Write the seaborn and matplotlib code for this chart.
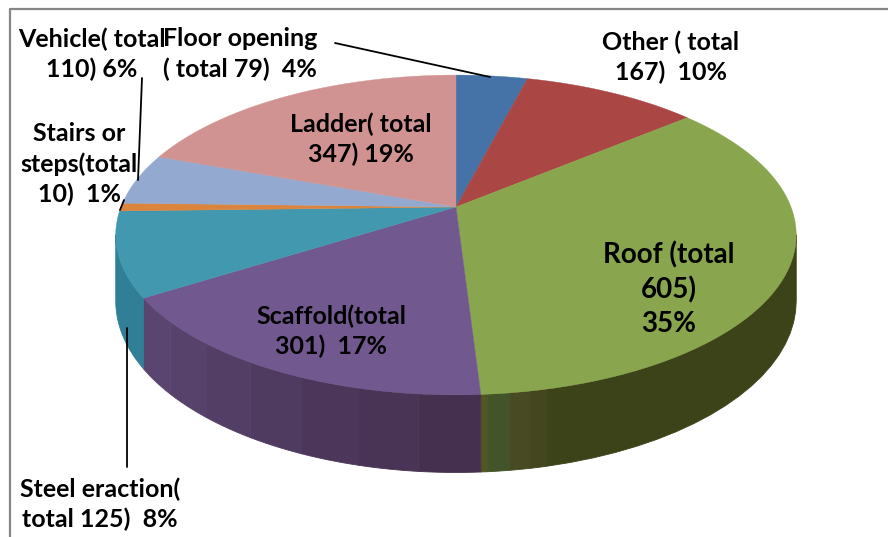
import matplotlib
matplotlib.use("Agg")
import matplotlib.pyplot as plt
import seaborn as sns
import numpy as np

# slices start at 12 o'clock and go clockwise
categories = ["Floor opening", "Other", "Roof", "Scaffold", "Steel eraction",
              "Stairs or steps", "Vehicle", "Ladder"]
# sizes as drawn on the picture (the wedges differ a bit from their labels)
values = [70, 173, 612, 297, 149, 14, 90, 339]
slice_colors = ["#4572A7", "#AA4643", "#89A54E", "#71588F",
                "#4198AF", "#DB843D", "#93A9CF", "#D19392"]
labels = ["Floor opening\n( total 79)  4%", "Other ( total\n167)  10%",
          "Roof (total\n605)\n35%", "Scaffold(total\n301)  17%",
          "Steel eraction(\ntotal 125)  8%", "Stairs or\nsteps(total\n10)  1%",
          "Vehicle( total\n110) 6%", "Ladder( total\n347) 19%"]

sns.set_theme(style="white")
plt.rcParams['font.family'] = ['Lato', 'DejaVu Sans']
palette = sns.color_palette(slice_colors)

CX, CY = 456, 207   # apex of the pie, in pixels
RX, RY = 335, 155
PERSP = 0.175
DEPTH = 64


def project(theta, drop=False):
    """Disk angle (deg clockwise from top) to picture pixels, with some perspective"""
    t = np.radians(theta)
    u, v = np.sin(t), np.cos(t)
    w = 1 + PERSP * v
    x = CX + u * RX / w
    y = CY - v * RY / w
    if drop:
        y = y + DEPTH / w
    return x, y


def draw_wall(ax, th0, th1, c0, c1=None, bands=1):
    """Side wall between two angles, split in flat shaded bands"""
    c0 = np.array(matplotlib.colors.to_rgb(c0))
    c1 = c0 if c1 is None else np.array(matplotlib.colors.to_rgb(c1))
    edges = np.linspace(th0, th1, bands + 1)
    for i in range(bands):
        th = np.linspace(edges[i], edges[i + 1], 20)
        xt, yt = project(th)
        xb, yb = project(th[::-1], drop=True)
        col = c0 + (c1 - c0) * (i / max(bands - 1, 1))
        ax.fill(np.r_[xt, xb], np.r_[yt, yb], color=col, lw=0.6, zorder=2)


fig = plt.figure(figsize=(8.88, 5.37), dpi=100)
ax = fig.add_axes([0, 0, 1, 1])
ax.set_xlim(0, 888)
ax.set_ylim(537, 0)
ax.axis("off")

# chart frame, right and bottom sides are cut off in the original
ax.plot([10, 10, 888], [537, 9, 9], color="#868686", lw=1.6, zorder=1)

bounds = np.r_[0, np.cumsum(values)] / np.sum(values) * 360

# walls, only the front part shows
roof_edges = [bounds[3], 175.6, 172.3, 169.4, 167, 100]
roof_cols = ["#54561f", "#44542a", "#474a22", "#43461e", "#3d4319"]
for a, b, c in zip(roof_edges[:-1], roof_edges[1:], roof_cols):
    draw_wall(ax, a, b, c)
draw_wall(ax, bounds[3], bounds[4], "#45304f", "#5a4570", bands=7)
draw_wall(ax, bounds[4], 260, "#307f97")

# top faces
for i, cat in enumerate(categories):
    th = np.linspace(bounds[i], bounds[i + 1], 60)
    x, y = project(th)
    ax.fill(np.r_[CX, x], np.r_[CY, y], color=palette[i], lw=0.3, zorder=3)

# leader lines
leaders = [([335, 490], [43, 77]), ([142, 138], [78, 180]),
           ([124, 120], [200, 210]), ([127, 127], [328, 467])]
for lx, ly in leaders:
    ax.plot(lx, ly, color="black", lw=1.3, zorder=4)

# label centres in pixels, same order as categories
label_pos = [(240, 54), (671, 57), (669, 289), (331, 331),
             (100, 504), (79, 164), (92, 54), (361, 139)]
label_size = [18, 18, 20, 18, 18, 18, 18, 18]
draw_order = [6, 5, 4, 3, 2, 1, 7, 0]
for i in draw_order:
    ax.text(label_pos[i][0], label_pos[i][1], labels[i], ha="center", va="center",
            fontsize=label_size[i], fontweight="bold", color="black",
            linespacing=1.35, zorder=5)

plt.savefig("out.png", dpi=100)
